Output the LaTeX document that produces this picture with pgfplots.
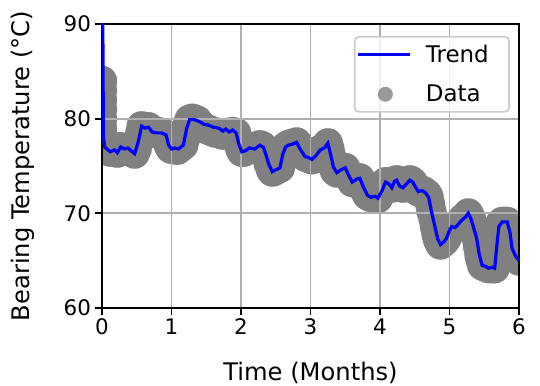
\documentclass[border=0pt]{standalone}
\usepackage{fontspec}
\setmainfont{DejaVu Sans}
\usepackage{pgfplots}
\pgfplotsset{compat=1.18}
\definecolor{gridgray}{RGB}{176,176,176}
\definecolor{legedge}{RGB}{204,204,204}
\definecolor{datagray}{RGB}{128,128,128}
\pgfplotsset{
 layers/mylayers/.define layer set={axis background,databelow,axis grid,axis ticks,axis lines,axis tick labels,main,axis descriptions,axis foreground}{
  grid style={/pgfplots/on layer=axis grid},
  tick style={/pgfplots/on layer=axis ticks},
  axis line style={/pgfplots/on layer=axis lines},
  label style={/pgfplots/on layer=axis descriptions},
  legend style={/pgfplots/on layer=axis descriptions},
  title style={/pgfplots/on layer=axis descriptions},
  colorbar style={/pgfplots/on layer=axis descriptions},
  ticklabel style={/pgfplots/on layer=axis tick labels},
  axis background@ style={/pgfplots/on layer=axis background},
  3d box foreground style={/pgfplots/on layer=axis foreground},
 },
}
\pgfplotstableread{
x y
0.00 84.0
0.00 83.0
0.00 82.0
0.00 81.0
0.00 80.0
0.00 79.0
0.02 78.0
0.04 77.0
0.07 76.8
0.10 76.6
0.12 76.5
0.15 76.6
0.18 76.7
0.22 76.4
0.25 76.8
0.27 77.0
0.30 76.9
0.32 76.8
0.35 76.9
0.37 76.9
0.40 76.7
0.42 76.6
0.45 76.4
0.47 76.3
0.50 76.8
0.52 77.5
0.55 78.5
0.57 79.2
0.60 79.1
0.62 79.0
0.65 79.1
0.67 79.1
0.70 78.8
0.72 78.6
0.75 78.5
0.78 78.5
0.81 78.6
0.85 78.5
0.88 78.4
0.92 78.3
0.94 77.8
0.96 77.2
0.98 76.9
1.00 76.8
1.03 76.9
1.05 76.9
1.08 76.7
1.10 76.8
1.13 77.0
1.17 77.2
1.20 78.0
1.22 79.0
1.24 79.5
1.26 79.9
1.30 80.0
1.33 79.9
1.37 79.8
1.40 79.5
1.44 79.2
1.47 79.0
1.50 78.9
1.54 78.8
1.57 78.7
1.60 78.6
1.64 78.5
1.68 78.5
1.71 78.4
1.74 78.3
1.78 78.5
1.80 78.4
1.83 78.3
1.86 78.5
1.88 78.6
1.91 78.5
1.93 78.5
1.95 78.0
1.97 77.3
1.99 76.8
2.01 76.5
2.04 76.5
2.06 76.6
2.09 76.8
2.12 76.9
2.16 76.9
2.20 76.8
2.24 77.0
2.27 77.2
2.30 77.1
2.32 77.0
2.35 76.4
2.38 75.8
2.40 75.2
2.43 74.6
2.45 74.4
2.48 74.5
2.50 74.6
2.53 74.7
2.56 74.8
2.58 75.5
2.60 76.2
2.62 76.7
2.64 77.0
2.66 77.1
2.68 77.2
2.71 77.3
2.74 77.3
2.77 77.4
2.80 77.5
2.83 77.2
2.85 76.8
2.88 76.4
2.92 76.0
2.95 75.9
2.97 75.9
3.00 75.8
3.02 75.7
3.05 75.9
3.08 76.1
3.11 76.4
3.14 76.7
3.17 76.8
3.20 76.9
3.22 77.1
3.25 77.4
3.27 76.9
3.29 76.2
3.31 75.5
3.33 74.9
3.35 74.5
3.38 74.3
3.41 74.5
3.44 74.6
3.47 74.7
3.50 74.8
3.52 74.4
3.55 74.0
3.58 73.6
3.60 73.3
3.63 73.5
3.66 73.6
3.69 73.7
3.71 73.7
3.74 73.2
3.76 72.8
3.79 72.3
3.82 71.9
3.85 71.8
3.87 71.7
3.90 71.8
3.93 71.8
3.95 71.7
3.97 71.6
4.00 72.0
4.03 72.4
4.05 72.9
4.08 73.3
4.10 73.2
4.13 73.1
4.15 72.9
4.17 72.7
4.19 73.1
4.21 73.4
4.24 73.5
4.26 73.2
4.28 72.9
4.31 72.8
4.33 72.7
4.36 72.9
4.38 73.1
4.41 73.3
4.43 73.5
4.45 73.4
4.47 73.3
4.49 73.0
4.51 72.8
4.53 72.5
4.55 72.3
4.58 72.4
4.60 72.4
4.63 72.3
4.65 72.2
4.68 72.0
4.70 71.7
4.72 71.0
4.74 70.2
4.77 69.4
4.79 68.6
4.81 67.9
4.83 67.3
4.85 67.0
4.87 66.7
4.90 66.9
4.92 67.0
4.94 67.2
4.96 67.4
4.98 67.8
5.00 68.2
5.03 68.6
5.05 68.6
5.08 68.5
5.10 68.6
5.12 68.8
5.15 69.0
5.18 69.3
5.20 69.5
5.23 69.6
5.25 69.8
5.27 70.0
5.29 69.7
5.31 69.4
5.33 68.9
5.35 68.4
5.37 67.9
5.39 67.4
5.41 66.5
5.43 65.6
5.45 65.0
5.47 64.5
5.50 64.4
5.52 64.4
5.54 64.3
5.56 64.2
5.59 64.3
5.61 64.3
5.63 64.2
5.65 64.2
5.66 65.3
5.68 66.5
5.70 67.6
5.71 68.6
5.73 68.9
5.76 69.1
5.80 69.1
5.83 69.1
5.85 68.6
5.87 68.0
5.89 67.1
5.90 66.3
5.93 65.8
5.95 65.5
5.98 65.2
6.00 65.0
}\datatable
\pgfplotstableread{
x y
0.01 92.0
0.02 78.0
0.04 77.0
0.07 76.8
0.12 76.5
0.18 76.7
0.22 76.4
0.27 77.0
0.32 76.8
0.37 76.9
0.42 76.6
0.47 76.3
0.52 77.5
0.57 79.2
0.62 79.0
0.67 79.1
0.72 78.6
0.78 78.5
0.85 78.5
0.92 78.3
0.96 77.2
1.00 76.8
1.05 76.9
1.10 76.8
1.17 77.2
1.22 79.0
1.26 79.9
1.33 79.9
1.40 79.7
1.47 79.4
1.54 79.3
1.60 79.1
1.68 79.0
1.74 78.7
1.78 78.9
1.83 78.6
1.88 78.8
1.93 78.5
1.97 77.3
2.01 76.5
2.06 76.6
2.12 76.9
2.20 76.8
2.27 77.2
2.32 77.0
2.35 76.4
2.40 75.2
2.45 74.4
2.50 74.6
2.56 74.8
2.60 76.2
2.64 77.0
2.68 77.2
2.74 77.3
2.80 77.5
2.85 76.8
2.92 76.0
2.97 75.9
3.02 75.7
3.08 76.1
3.14 76.7
3.20 76.9
3.25 77.4
3.29 76.2
3.33 74.9
3.38 74.3
3.44 74.6
3.50 74.8
3.55 74.0
3.60 73.3
3.66 73.6
3.71 73.7
3.76 72.8
3.82 71.9
3.87 71.7
3.93 71.8
3.97 71.6
4.03 72.4
4.08 73.3
4.13 73.1
4.17 72.7
4.21 73.4
4.24 73.5
4.28 72.9
4.33 72.7
4.38 73.1
4.43 73.5
4.47 73.3
4.51 72.8
4.55 72.3
4.60 72.4
4.65 72.2
4.70 71.7
4.74 70.2
4.79 68.6
4.83 67.3
4.87 66.7
4.92 67.0
4.96 67.4
5.00 68.2
5.03 68.6
5.08 68.5
5.12 68.8
5.18 69.3
5.23 69.6
5.27 70.0
5.31 69.4
5.35 68.4
5.39 67.4
5.43 65.6
5.47 64.5
5.52 64.4
5.56 64.2
5.61 64.3
5.65 64.2
5.68 66.5
5.71 68.6
5.76 69.1
5.83 69.1
5.87 68.0
5.90 66.3
5.95 65.5
6.00 65.0
}\trendtable
\begin{document}
\begin{tikzpicture}
\begin{axis}[
 set layers=mylayers,
 at={(102bp,78bp)}, anchor=south west,
 scale only axis, width=417bp, height=284bp,
 xmin=0, xmax=6, ymin=60, ymax=90,
 xtick={0,1,2,3,4,5,6}, ytick={60,70,80,90},
 grid=major, grid style={gridgray, line width=1.7bp},
 axis line style={black, line width=1.7bp},
 tick style={black, line width=1.7bp},
 major tick length=7.5bp, tick align=outside, tick pos=left,
 font=\fontsize{21.5}{26}\selectfont,
 ticklabel style={font=\fontsize{21.5}{26}\selectfont},
 /pgf/number format/assume math mode=true,
 xlabel={Time (Months)}, ylabel={Bearing Temperature (°C)},
 label style={font=\fontsize{24.3}{29}\selectfont},
 xlabel style={at={(axis description cs:0.5,-0.227)}, anchor=center},
 ylabel style={at={(axis description cs:-0.19,0.5)}, anchor=center},
 clip mode=individual,
 clip marker paths=true,
 legend cell align=left,
 legend style={at={(axis description cs:0.978,0.958)}, anchor=north east,
   draw=legedge, line width=1.7bp, rounded corners=4bp, fill=white, fill opacity=0.8, text opacity=1,
   inner xsep=2bp, inner ysep=4.5bp, row sep=13bp, column sep=8bp,
   nodes={inner xsep=6bp, inner ysep=4bp},
   font=\fontsize{23}{28}\selectfont},
]
\addplot[datagray, on layer=databelow, only marks, mark=*, mark size=15bp, mark options={fill=datagray, draw=datagray, line width=0.1bp}, forget plot]
  table[x=x,y=y] {\datatable};
\addplot[blue, line width=3.2bp, no marks, forget plot]
  table[x=x,y=y] {\trendtable};
\addlegendimage{legend image code/.code={\path[draw=none] (0bp,0bp) -- (52bp,0bp); \draw[blue, line width=3.2bp] (0bp,0bp) -- (52bp,0bp);}}
\addlegendimage{legend image code/.code={\path[draw=none] (0bp,0bp) -- (52bp,0bp); \fill[datagray, draw=none] (27bp,0bp) circle (7.5bp);}}
\legend{\makebox[75bp][l]{Trend},\makebox[75bp][l]{Data}}
\end{axis}
\pgfresetboundingbox
\path[use as bounding box] (0,0) rectangle (540bp,386bp);
\end{tikzpicture}
\end{document}
